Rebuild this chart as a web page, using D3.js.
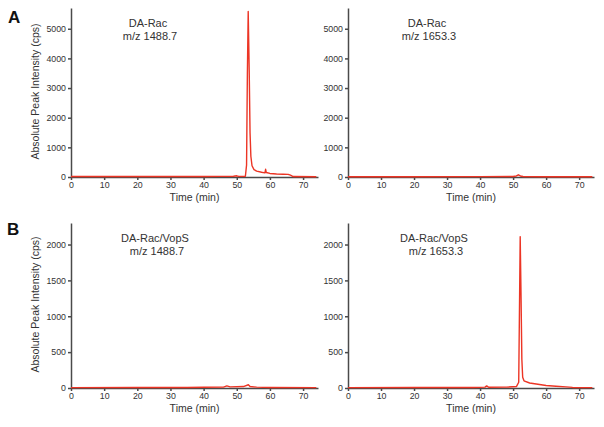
<!DOCTYPE html>
<html lang="en">
<head>
<meta charset="utf-8"/>
<title>DA-Rac extracted ion chromatograms</title>
<script src="https://d3js.org/d3.v7.min.js"></script>
<style>
  body { margin: 0; background: #fff; }
  svg { font-family: "Liberation Sans", Arial, sans-serif; }
  .axis path, .axis line { stroke: #4a4a4a; stroke-width: 1.5px; }
  .axis text { fill: #333; font-size: 8.8px; }
  .trace { fill: none; stroke: #ec3525; stroke-width: 1.4px; stroke-linejoin: round; }
  .title { fill: #333; font-size: 11px; text-anchor: middle; }
  .label { fill: #333; font-size: 10.5px; text-anchor: middle; }
  .letter { fill: #111; font-size: 17px; font-weight: bold; }
</style>
</head>
<body>
<div id="chart"></div>
<script>
// time (min), intensity (cps)
var traceA1488 = [[0,15],[10,15],[20,15],[30,15],[40,18],[45,20],[49,25],[50,40],[50.6,20],[52.6,25],
  [52.95,400],[53.2,3500],[53.45,5580],[53.75,3600],[54.0,1500],[54.25,700],[54.6,380],[55.2,250],[56,200],
  [57.5,160],[58.5,140],[58.7,260],[58.9,150],[60,120],[62,100],[64,95],[65.5,90],[66.2,60],[67,15],[74,10]];
var traceA1653 = [[0,10],[20,10],[40,12],[50,15],[51,35],[51.6,75],[52.2,35],[53,15],[60,10],[74,10]];
var traceB1488 = [[0,5],[20,6],[35,8],[40,10],[46,12],[47,30],[48,15],[52,20],[53.5,45],[54,20],[56,12],[60,8],[74,5]];
var traceB1653 = [[0,5],[20,6],[38,8],[41.5,12],[42,30],[42.6,10],[48,12],[51,20],[51.7,80],[51.95,1200],
  [52.15,2110],[52.4,1300],[52.65,400],[52.9,150],[53.3,100],[55,70],[57,55],[60,35],[63,25],[66,15],[68,8],[74,5]];

var xTicks = [0, 10, 20, 30, 40, 50, 60, 70];
var yTicksA = [0, 1000, 2000, 3000, 4000, 5000];
var yTicksB = [0, 500, 1000, 1500, 2000];
var titles = [["DA-Rac", "m/z 1488.7"], ["DA-Rac", "m/z 1653.3"],
              ["DA-Rac/VopS", "m/z 1488.7"], ["DA-Rac/VopS", "m/z 1653.3"]];

var width = 604, height = 427;
var svg = d3.select("#chart").append("svg")
    .attr("width", width)
    .attr("height", height);

// panel boxes: left, top, plot width, plot height
var panels = [
  {x: 71,  y: 8,   w: 247, h: 169, data: traceA1488, yMax: 5700, yTicks: yTicksA, title: titles[0], tx: 148, ylab: true},
  {x: 348, y: 8,   w: 246, h: 169, data: traceA1653, yMax: 5700, yTicks: yTicksA, title: titles[1], tx: 427, ylab: false},
  {x: 71,  y: 223, w: 247, h: 165, data: traceB1488, yMax: 2300, yTicks: yTicksB, title: titles[2], tx: 155, ylab: true},
  {x: 348, y: 223, w: 246, h: 165, data: traceB1653, yMax: 2300, yTicks: yTicksB, title: titles[3], tx: 434, ylab: false}
];

panels.forEach(function(p) {
  var g = svg.append("g").attr("transform", "translate(" + p.x + "," + p.y + ")");

  var x = d3.scaleLinear().domain([0, 74.5]).range([0, p.w]);
  var y = d3.scaleLinear().domain([0, p.yMax]).range([p.h, 0]);

  var line = d3.line()
      .x(function(d) { return x(d[0]); })
      .y(function(d) { return y(d[1]); });

  g.append("g")
      .attr("class", "axis")
      .attr("transform", "translate(0," + p.h + ")")
      .call(d3.axisBottom(x).tickValues(xTicks).tickFormat(d3.format("d"))
        .tickSize(3).tickSizeOuter(0).tickPadding(2));

  g.append("g")
      .attr("class", "axis")
      .call(d3.axisLeft(y).tickValues(p.yTicks).tickFormat(d3.format("d"))
        .tickSize(3).tickSizeOuter(0).tickPadding(2));

  g.append("path")
      .datum(p.data)
      .attr("class", "trace")
      .attr("d", line);

  g.append("text")
      .attr("class", "label")
      .attr("x", p.w / 2)
      .attr("y", p.h + 24)
      .text("Time (min)");

  g.append("text").attr("class", "title")
      .attr("x", p.tx - p.x).attr("y", 19)
      .text(p.title[0]);
  g.append("text").attr("class", "title")
      .attr("x", p.tx - p.x + 2).attr("y", 32)
      .text(p.title[1]);

  if (p.ylab) {
    g.append("text")
        .attr("class", "label")
        .attr("transform", "translate(-32," + (p.h / 2 - 1) + ") rotate(-90)")
        .text("Absolute Peak Intensity (cps)");
  }
});

svg.append("text").attr("class", "letter").attr("x", 8).attr("y", 23).text("A");
svg.append("text").attr("class", "letter").attr("x", 7).attr("y", 235).text("B");
</script>
</body>
</html>
